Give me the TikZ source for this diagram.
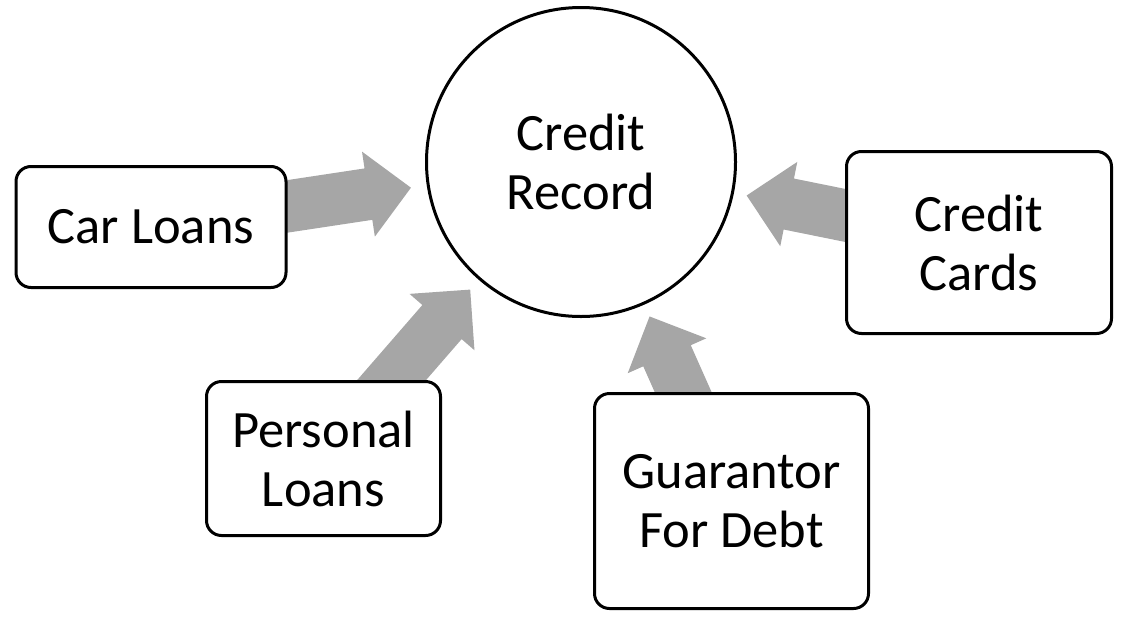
\documentclass[tikz,border=0pt]{standalone}
\usepackage{fontspec}
\setmainfont{Carlito}
\usetikzlibrary{calc,backgrounds}
\definecolor{arrowgray}{RGB}{166,166,166}
\newcommand\blockarrow[2]{%
  \coordinate (ba-h) at ($(#2)!43pt!(#1)$);
  \fill[arrowgray] ($(#1)!26pt!90:(#2)$) -- ($(ba-h)!26pt!90:(#2)$) -- ($(ba-h)!43pt!90:(#2)$) -- (#2)
    -- ($(ba-h)!43pt!-90:(#2)$) -- ($(ba-h)!26pt!-90:(#2)$) -- ($(#1)!26pt!-90:(#2)$) -- cycle;}
\begin{document}
\begin{tikzpicture}[x=1pt,y=-1pt,
  lbl/.style={font=\fontsize{52.5}{59}\selectfont, align=center, text=black},
  box/.style={lbl, draw=black, line width=3pt, fill=white, rounded corners=15pt, inner sep=0pt},
  rec/.style={lbl, draw=black, line width=3pt, fill=white, circle, inner sep=0pt, minimum size=309pt}]
\useasboundingbox (0,0) rectangle (1132,627);
\node[rec] (record) at (581,162) {Credit\\Record};
\node[box, minimum width=270pt, minimum height=121pt] (car) at (151,227) {Car Loans};
\node[box, minimum width=234pt, minimum height=154pt] (personal) at (323.5,458.5) {Personal\\Loans};
\node[box, minimum width=274pt, minimum height=215pt] (guar) at (731.5,501) {Guarantor\\For Debt};
\node[box, minimum width=265pt, minimum height=182pt] (cards) at (979,242.5) {Credit\\Cards};
\coordinate (tcar) at ($(record.center)!172pt!(car.center)$);
\coordinate (tpers) at ($(record.center)!169pt!(personal.center)$);
\coordinate (tguar) at ($(record.center)!169pt!(guar.center)$);
\coordinate (tcards) at ($(record.center)!169pt!(cards.center)$);
\begin{pgfonlayer}{background}
\blockarrow{car.center}{tcar}
\blockarrow{personal.center}{tpers}
\blockarrow{guar.center}{tguar}
\blockarrow{cards.center}{tcards}
\end{pgfonlayer}
\end{tikzpicture}
\end{document}
